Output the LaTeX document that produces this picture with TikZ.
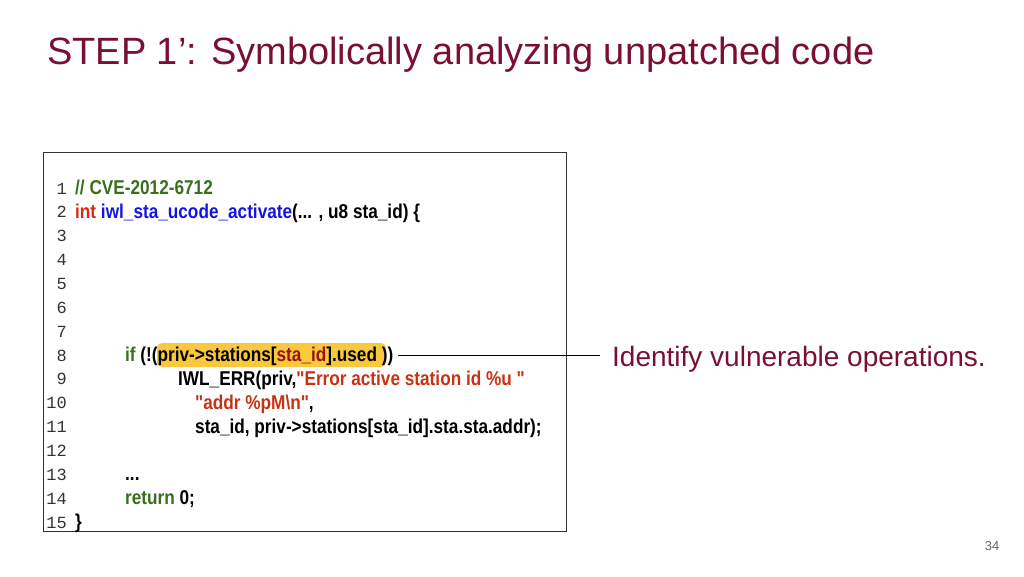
\documentclass[tikz,border=0pt]{standalone}
\usepackage{fontspec}
\setmainfont{Liberation Sans}
\newfontfamily\codefont[FakeStretch=0.86]{Liberation Sans Bold}
\newfontfamily\numfont{Liberation Mono}
\definecolor{titlered}{RGB}{122,16,48}
\definecolor{cgreen}{RGB}{56,110,30}
\definecolor{cred}{RGB}{220,40,20}
\definecolor{cblue}{RGB}{20,20,230}
\definecolor{sred}{RGB}{200,50,20}
\definecolor{hl}{RGB}{250,200,60}
\definecolor{dred}{RGB}{150,20,20}
\tikzset{x=1pt,y=-1pt,
 num/.style={anchor=base east,inner sep=0pt,font=\numfont\fontsize{17}{17}\selectfont,text=black!80},
 code/.style={anchor=base west,inner sep=0pt,font=\codefont\fontsize{20}{20}\selectfont}}
\begin{document}
\begin{tikzpicture}
\useasboundingbox (0,0) rectangle (1024,576);
\node[anchor=base west,inner sep=0pt,text=titlered,font=\fontsize{38}{38}\selectfont] (title) at (47,64) {STEP 1’: Symbolically analyzing unpatched code};
\draw[black!80,line width=0.8pt] (43,152) rectangle (566,531);
\fill[hl,rounded corners=5pt] (157,343) rectangle (386,367);
\foreach \i in {1,...,15}{\node[num] (n\i) at (67,{188+(\i-1)*23.86+6}) {\i};}
\node[code,text=cgreen] (l1) at (75,194) {// CVE-2012-6712};
\node[code] (l2) at (75,218) {\textcolor{cred}{int} \textcolor{cblue}{iwl\_sta\_ucode\_activate}(... , u8 sta\_id) \{};
\node[code] (l8) at (125,361) {\textcolor{cgreen}{if} (!(priv->stations[\textcolor{dred}{sta\_id}].used )\rlap{)}};
\node[code] (l9) at (178,385) {IWL\_ERR(priv,\textcolor{sred}{"Error active station id \%u "}};
\node[code,text=sred] (l10) at (195,409) {"addr \%pM\textbackslash n"\textcolor{black}{,}};
\node[code] (l11) at (195,433) {sta\_id, priv->stations[sta\_id].sta.sta.addr);};
\node[code] (l13) at (125,480) {...};
\node[code] (l14) at (125,504) {\textcolor{cgreen}{return} 0;};
\node[code] (l15) at (75,528) {\}};
\node[anchor=base west,inner sep=0pt,text=titlered,font=\fontsize{28}{28}\selectfont] (lab) at (612,366) {Identify vulnerable operations.};
\coordinate (s) at (398,355);
\coordinate (e) at (600,355);
\draw[black,line width=0.8pt] (s) -- (e);
\node[anchor=base,inner sep=0pt,text=black!60,font=\fontsize{13}{13}\selectfont] (pg) at (992,550) {34};
\end{tikzpicture}
\end{document}
